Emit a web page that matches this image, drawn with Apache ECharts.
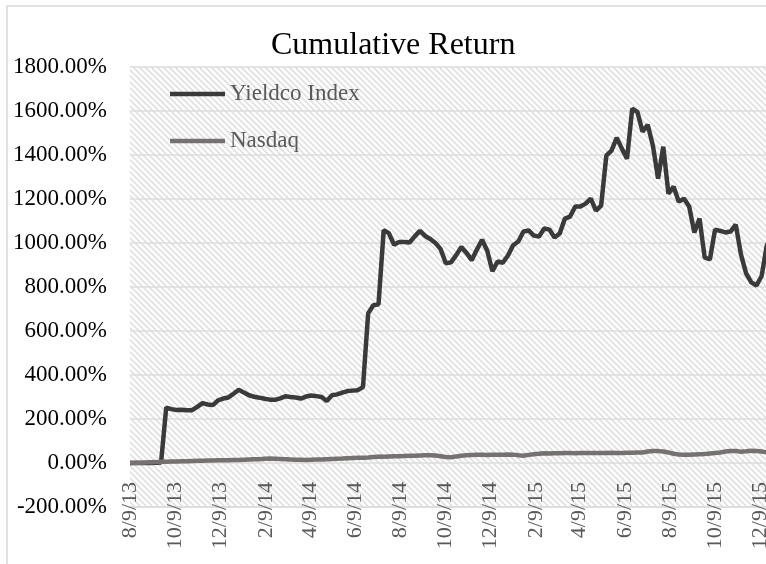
<!DOCTYPE html>
<html>
<head>
<meta charset="utf-8">
<script src="https://cdn.jsdelivr.net/npm/echarts@6/dist/echarts.min.js"></script>
<style>
html,body{margin:0;padding:0;background:#fff;}
#chart{width:766px;height:564px;}
</style>
</head>
<body>
<div id="chart"></div>
<script>
// Weekly observations starting Friday 8/9/13 (cumulative return, %)
const startDate = [2013, 8, 9];
const yieldco = [
  0, 0, 0, 0, 0, 1, 2,
  252, 245, 241, 242, 240, 240, 255, 272, 266, 263, 285, 293, 298, 315,
  333, 320, 308, 301, 297, 292, 288, 287, 294, 303, 300, 298, 293, 302,
  307, 304, 300, 282, 308, 312, 320, 327, 329, 331, 345, 680, 717, 721,
  1058, 1045, 992, 1005, 1005, 1002, 1030, 1055, 1032, 1018, 1000, 972, 908, 912,
  945, 982, 955, 922, 970, 1015, 965, 872, 916, 910, 943, 990, 1007, 1052,
  1057, 1034, 1029, 1066, 1061, 1025, 1043, 1111, 1120, 1166, 1166, 1179, 1202, 1147,
  1170, 1397, 1420, 1478, 1429, 1383, 1610, 1596, 1506, 1537, 1442, 1293, 1438, 1224,
  1256, 1188, 1202, 1166, 1048, 1111, 934, 925, 1061, 1055, 1048, 1052, 1084, 948,
  862, 821, 807, 850, 990, 1020
];
const nasdaq = [
  0, 1, 1, 2, 3, 4, 6,
  6, 7, 7, 8, 8, 9, 10, 10, 11, 11, 12, 12, 13, 14,
  14, 15, 16, 17, 17, 19, 20, 19, 18, 17, 16, 15, 15, 14,
  15, 16, 16, 17, 18, 19, 20, 22, 23, 24, 24, 25, 27, 29,
  28, 30, 31, 31, 32, 33, 33, 34, 35, 35, 34, 31, 27, 26,
  30, 33, 35, 36, 37, 37, 36, 37, 38, 38, 39, 38, 35, 33,
  37, 40, 42, 44, 43, 44, 44, 45, 45, 44, 45, 46, 46, 45,
  46, 46, 47, 46, 46, 47, 47, 48, 48, 52, 55, 54, 52, 48,
  42, 39, 38, 38, 39, 40, 41, 43, 45, 48, 52, 55, 55, 51,
  53, 56, 55, 52, 48, 47
];
const tickLabels = ['8/9/13','10/9/13','12/9/13','2/9/14','4/9/14','6/9/14','8/9/14','10/9/14','12/9/14','2/9/15','4/9/15','6/9/15','8/9/15','10/9/15','12/9/15'];
const seriesNames = ['Yieldco Index', 'Nasdaq'];

const DAY = 86400000;
const t0 = Date.UTC(startDate[0], startDate[1]-1, startDate[2]);
function dayOf(s){
  const p = s.split('/').map(Number);
  return Math.round((Date.UTC(2000 + p[2], p[0]-1, p[1]) - t0) / DAY);
}
const tickDays = tickLabels.map(dayOf);
const labelByDay = {};
tickLabels.forEach((s, i) => { labelByDay[tickDays[i]] = s; });
const days = yieldco.map((_, i) => 7 * i);   // weekly observation dates, as days since 8/9/13
const axisEndDay = dayOf('12/25/15');

// hatch pattern
const tile = document.createElement('canvas');
tile.width = 6; tile.height = 6;
const c = tile.getContext('2d');
c.fillStyle = '#ffffff'; c.fillRect(0,0,6,6);
c.strokeStyle = '#e0e0e0'; c.lineWidth = 1.6;
c.beginPath();
c.moveTo(-1,-1); c.lineTo(7,7);
c.moveTo(-1,5); c.lineTo(1,7);
c.moveTo(5,-1); c.lineTo(7,1);
c.stroke();

const serif = '"Liberation Serif", "Times New Roman", serif';
const chart = echarts.init(document.getElementById('chart'));
chart.setOption({
  animation: false,
  backgroundColor: '#ffffff',
  title: {
    text: 'Cumulative Return',
    left: 271, top: 30, padding: 0,
    textStyle: {fontFamily: serif, fontSize: 32, fontWeight: 'normal', color: '#000000'}
  },
  graphic: [{
    type: 'rect', silent: true, z: -10,
    shape: {x: 7, y: 6, width: 900, height: 700},
    style: {fill: 'none', stroke: '#d9d9d9', lineWidth: 1.5}
  }],
  legend: {
    orient: 'vertical', left: 165, top: 76, itemGap: 21,
    icon: 'rect', itemWidth: 55, itemHeight: 4.5,
    textStyle: {fontFamily: serif, fontSize: 23, color: '#595959', lineHeight: 26},
    data: seriesNames
  },
  grid: {left: 130, top: 67, bottom: 57, right: -6, outerBoundsMode: 'none',
    show: true, borderWidth: 0, backgroundColor: {image: tile, repeat: 'repeat'}},
  xAxis: {
    type: 'value',
    min: 0, max: axisEndDay,
    axisLine: {show: true, onZero: false, lineStyle: {color: '#dcdcdc', width: 1.5}},
    axisTick: {show: false},
    splitLine: {show: false},
    axisLabel: {
      customValues: tickDays,
      rotate: 90, margin: -25, hideOverlap: false,
      showMinLabel: true, showMaxLabel: true,
      fontFamily: serif, fontSize: 22, color: '#595959',
      formatter: function(v){ return labelByDay[Math.round(v)] || ''; }
    }
  },
  yAxis: {
    type: 'value', min: -200, max: 1800, interval: 200,
    axisLine: {show: false, onZero: false}, axisTick: {show: false},
    splitLine: {lineStyle: {color: '#dcdcdc', width: 1.5}},
    axisLabel: {margin: 23, fontFamily: serif, fontSize: 23, color: '#000000',
      formatter: v => v.toFixed(2) + '%'}
  },
  series: [
    {name: seriesNames[0], type: 'line', symbol: 'none', showSymbol: false,
     data: days.map((d, i) => [d, yieldco[i]]),
     itemStyle: {color: '#3a3a3a'}, lineStyle: {color: '#3a3a3a', width: 4.5}},
    {name: seriesNames[1], type: 'line', symbol: 'none', showSymbol: false,
     data: days.map((d, i) => [d, nasdaq[i]]),
     itemStyle: {color: '#767171'}, lineStyle: {color: '#767171', width: 4.5}}
  ]
});
</script>
</body>
</html>
